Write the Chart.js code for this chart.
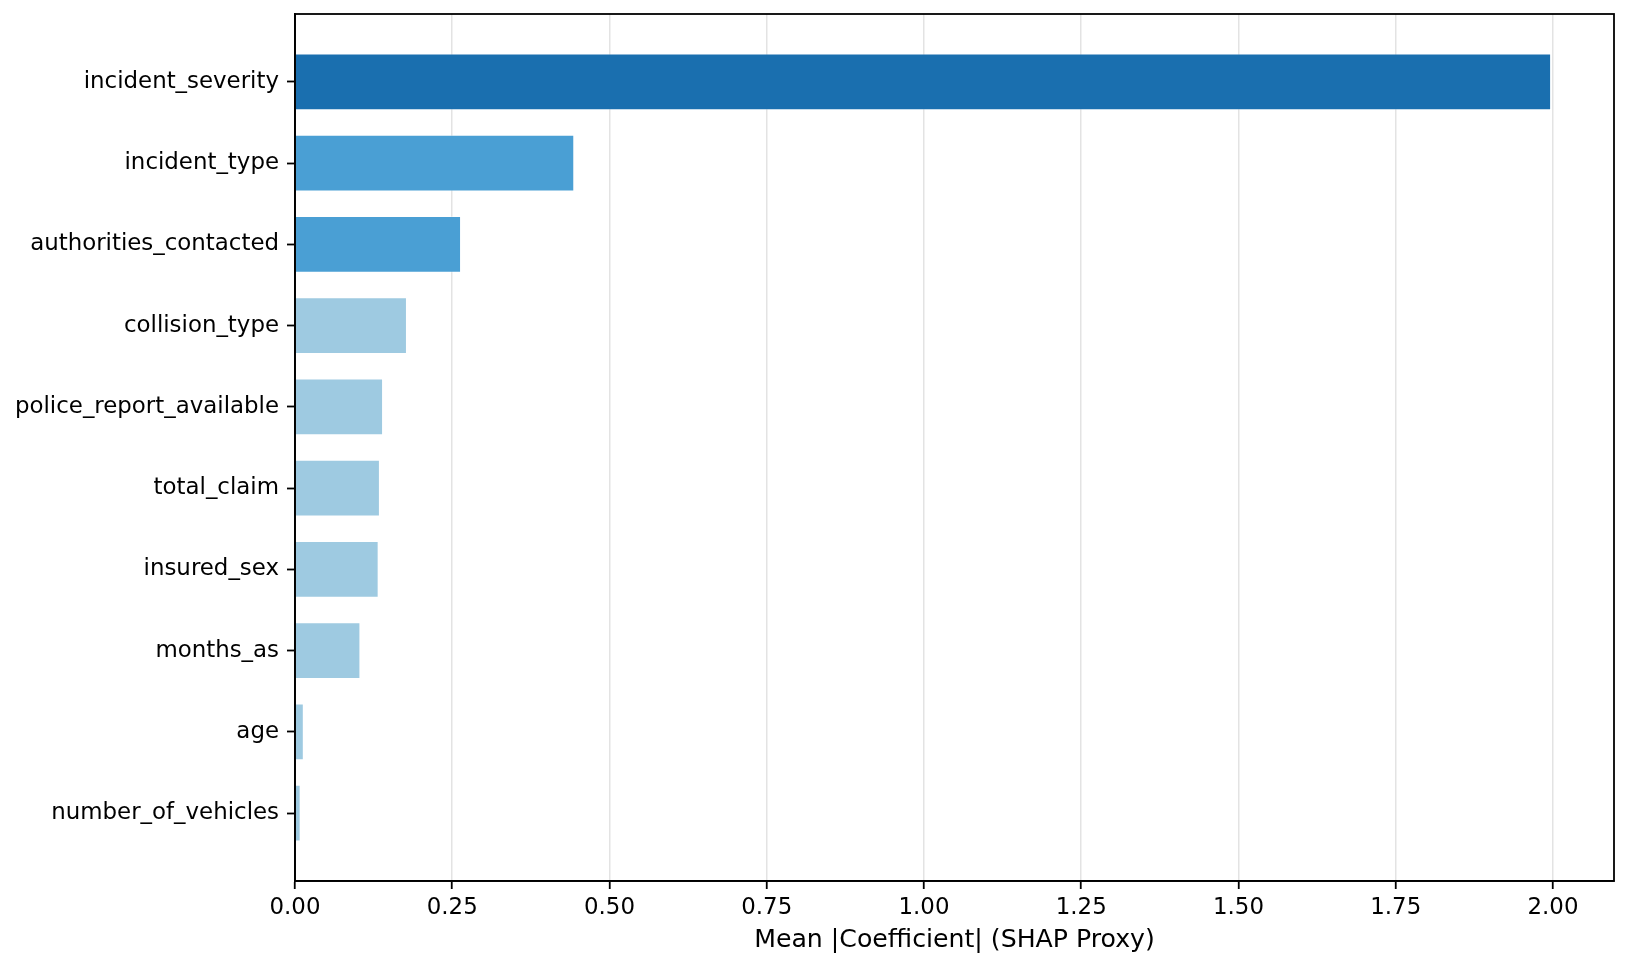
<!DOCTYPE html>
<html>
<head>
<meta charset="utf-8">
<script src="https://cdn.jsdelivr.net/npm/chart.js@4"></script>
<style>
  html, body { margin: 0; padding: 0; background: #ffffff; }
  #wrap { width: 1630px; height: 969px; }
</style>
</head>
<body>
<div id="wrap"><canvas id="c" width="1630" height="969"></canvas></div>
<script>
const categories = ["incident_severity", "incident_type", "authorities_contacted", "collision_type",
  "police_report_available", "total_claim", "insured_sex", "months_as", "age", "number_of_vehicles"];
const importance = [1.997, 0.444, 0.264, 0.178, 0.140, 0.135, 0.133, 0.104, 0.014, 0.009];
const xTicks = [0, 0.25, 0.5, 0.75, 1.0, 1.25, 1.5, 1.75, 2.0];
const xLabel = "Mean |Coefficient| (SHAP Proxy)";

const DARK = "#1a6faf", MID = "#4a9fd4", LIGHT = "#9ecae1";
const barColors = [DARK, MID, MID, LIGHT, LIGHT, LIGHT, LIGHT, LIGHT, LIGHT, LIGHT];

const FONT = "'DejaVu Sans', sans-serif";
const points = importance.map((v, i) => ({ x: v, y: i }));

const framePlugin = {
  id: 'frame',
  afterDraw(chart) {
    const a = chart.chartArea, ctx = chart.ctx;
    ctx.save();
    ctx.strokeStyle = '#000';
    ctx.lineWidth = 1.8;
    ctx.strokeRect(a.left, a.top, a.right - a.left, a.bottom - a.top);
    ctx.restore();
  }
};

new Chart(document.getElementById('c'), {
  type: 'bar',
  data: {
    datasets: [{
      data: points,
      backgroundColor: barColors,
      borderColor: 'rgba(255,255,255,0.35)',
      borderWidth: 1,
      barPercentage: 0.7,
      categoryPercentage: 1.0
    }]
  },
  options: {
    indexAxis: 'y',
    responsive: false,
    animation: false,
    devicePixelRatio: 1,
    layout: { padding: { top: 14, right: 16, left: 0, bottom: 0 } },
    plugins: { legend: { display: false }, tooltip: { enabled: false } },
    scales: {
      x: {
        type: 'linear',
        position: 'bottom',
        min: 0,
        max: 2.097,
        z: 1,
        afterBuildTicks(scale) { scale.ticks = xTicks.map(v => ({ value: v })); },
        afterFit(scale) { scale.height = 88; scale.paddingLeft = 0; scale.paddingRight = 0; },
        ticks: {
          color: '#000',
          font: { family: FONT, size: 22.9 },
          padding: 5,
          maxRotation: 0,
          autoSkip: false,
          callback: v => Number(v).toFixed(2)
        },
        grid: {
          display: true,
          drawOnChartArea: true,
          color: 'rgba(176,176,176,0.35)',
          lineWidth: 1.5,
          drawTicks: true,
          tickLength: 8,
          tickColor: '#000',
          tickWidth: 1.8
        },
        border: { display: true, color: '#000', width: 1.8 },
        title: {
          display: true,
          text: xLabel,
          color: '#000',
          font: { family: FONT, size: 25.2 },
          padding: { top: 0, bottom: 13 }
        }
      },
      y: {
        type: 'linear',
        position: 'left',
        reverse: true,
        offset: false,
        min: -0.835,
        max: 9.835,
        afterBuildTicks(scale) { scale.ticks = categories.map((c, i) => ({ value: i })); },
        afterFit(scale) { scale.width = 295; scale.paddingTop = 0; scale.paddingBottom = 0; },
        ticks: {
          color: '#000',
          font: { family: FONT, size: 22.9 },
          padding: 8,
          autoSkip: false,
          callback: v => categories[v]
        },
        grid: {
          display: true,
          offset: false,
          drawOnChartArea: false,
          drawTicks: true,
          tickLength: 8,
          tickColor: '#000',
          tickWidth: 1.8
        },
        border: { display: true, color: '#000', width: 1.8 }
      }
    }
  },
  plugins: [framePlugin]
});
</script>
</body>
</html>
